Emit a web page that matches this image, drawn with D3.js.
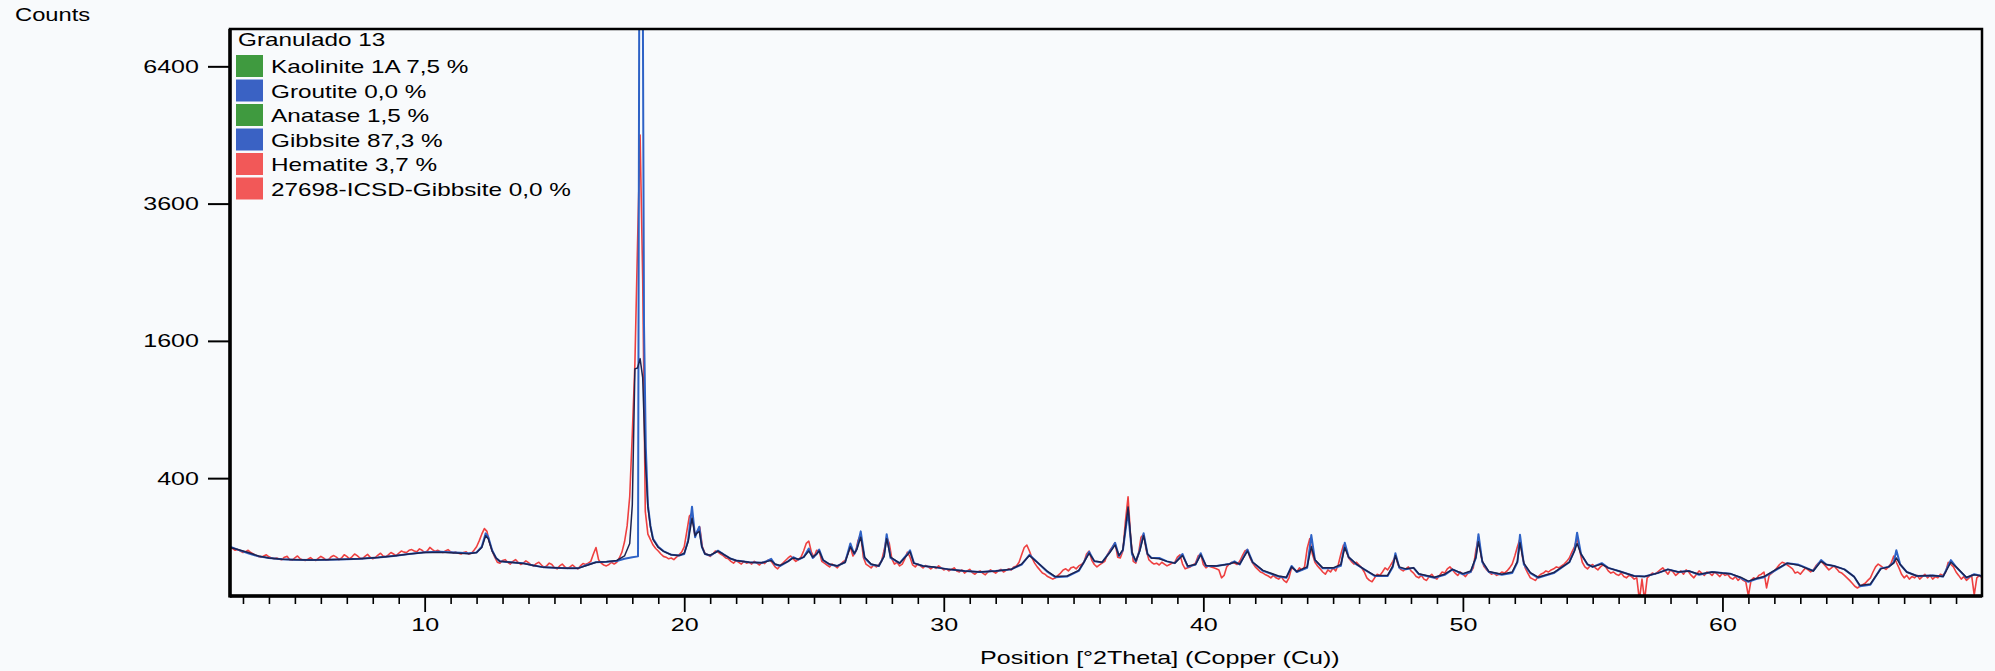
<!DOCTYPE html>
<html>
<head>
<meta charset="utf-8">
<script src="https://cdn.jsdelivr.net/npm/d3@7"></script>
<style>
  html, body { margin: 0; padding: 0; background: #f8fafc; }
  svg { display: block; font-family: "Liberation Sans", Arial, sans-serif; }
</style>
</head>
<body>
<svg id="chart" width="1995" height="671"></svg>
<script>
// Measured scan: counts every 0.1 °2θ starting at 2.5 °
const obsStart = 2.5;
const obsStep = 0.1;
const obsCounts = [
  98, 95, 90, 92, 88, 84, 86, 90, 84, 80,        // 2.5
  76, 74, 72, 75, 78, 73, 70, 68, 70, 67,        // 3.5
  66, 72, 74, 66, 65, 70, 75, 68, 65, 64,        // 4.5
  67, 71, 66, 64, 69, 74, 70, 65, 66, 73,        // 5.5
  76, 72, 66, 70, 78, 74, 68, 73, 80, 76,        // 6.5
  70, 68, 74, 79, 72, 68, 71, 77, 82, 75,        // 7.5
  73, 78, 84, 80, 76, 82, 88, 85, 84, 90,        // 8.5
  92, 88, 86, 94, 90, 84, 88, 98, 92, 87,        // 9.5
  90, 86, 84, 88, 92, 86, 83, 85, 82, 80,        // 10.5
  84, 86, 80, 82, 90, 100, 118, 140, 160, 150,   // 11.5
  112, 88, 72, 60, 58, 64, 66, 60, 56, 62,       // 12.5
  66, 60, 55, 58, 63, 59, 54, 52, 57, 60,        // 13.5
  54, 49, 52, 58, 55, 48, 46, 52, 56, 50,        // 14.5
  47, 50, 54, 49, 46, 52, 57, 55, 58, 62,        // 15.5
  80, 98, 66, 58, 54, 52, 55, 60, 56, 60,        // 16.5
  70, 85, 115, 170, 300, 700, 1350, 2900, 4900, 2400, // 17.5
  230, 140, 122, 105, 95, 88, 80, 74, 72, 68,    // 18.5
  70, 66, 72, 78, 85, 100, 150, 210, 221, 140,   // 19.5
  150, 165, 100, 82, 78, 74, 80, 88, 85, 80,     // 20.5
  76, 70, 68, 62, 58, 64, 60, 56, 62, 58,        // 21.5
  60, 56, 62, 58, 54, 60, 57, 64, 66, 58,        // 22.5
  50, 46, 53, 58, 64, 70, 75, 68, 62, 66,        // 23.5
  72, 88, 110, 117, 85, 72, 90, 88, 62, 58,      // 24.5
  54, 50, 56, 52, 48, 55, 60, 64, 80, 100,       // 25.5
  75, 85, 120, 140, 72, 56, 52, 48, 54, 50,      // 26.5
  55, 62, 90, 130, 110, 68, 56, 60, 52, 56,      // 27.5
  68, 85, 72, 54, 50, 56, 52, 48, 53, 50,        // 28.5
  46, 50, 47, 52, 48, 44, 46, 42, 45, 48,        // 29.5
  42, 40, 44, 38, 42, 45, 39, 36, 40, 42,        // 30.5
  38, 35, 40, 44, 41, 38, 42, 45, 40, 43,        // 31.5
  46, 44, 50, 52, 60, 78, 98, 105, 88, 70,       // 32.5
  58, 50, 44, 38, 36, 32, 30, 28, 30, 34,        // 33.5
  38, 44, 46, 42, 48, 50, 46, 52, 55, 60,        // 34.5
  80, 88, 65, 55, 50, 54, 58, 62, 78, 90,        // 35.5
  100, 112, 72, 70, 88, 190, 299, 130, 62, 58,   // 36.5
  80, 130, 140, 90, 66, 60, 56, 58, 54, 60,      // 37.5
  56, 52, 55, 58, 60, 72, 78, 56, 46, 48,        // 38.5
  50, 54, 58, 75, 80, 55, 48, 52, 50, 48,        // 39.5
  46, 44, 30, 34, 50, 56, 60, 58, 55, 62,        // 40.5
  75, 88, 92, 70, 58, 50, 45, 40, 38, 35,        // 41.5
  33, 30, 34, 30, 28, 32, 26, 23, 30, 48,        // 42.5
  45, 40, 48, 44, 50, 95, 125, 80, 60, 52,       // 43.5
  46, 40, 36, 44, 40, 48, 42, 55, 80, 105,       // 44.5
  90, 70, 62, 56, 60, 54, 48, 40, 30, 26,        // 45.5
  24, 30, 36, 34, 40, 48, 44, 52, 62, 75,        // 46.5
  55, 45, 42, 46, 50, 42, 38, 32, 30, 34,        // 47.5
  28, 26, 32, 36, 30, 28, 34, 40, 38, 46,        // 48.5
  50, 44, 38, 34, 40, 36, 32, 38, 40, 48,        // 49.5
  90, 130, 75, 52, 45, 40, 36, 38, 34, 36,       // 50.5
  40, 38, 42, 48, 56, 75, 100, 125, 70, 48,      // 51.5
  38, 30, 28, 26, 32, 36, 38, 42, 40, 44,        // 52.5
  46, 50, 48, 52, 56, 62, 70, 85, 100, 128,      // 53.5
  90, 60, 50, 46, 52, 55, 48, 44, 50, 54,        // 54.5
  50, 42, 38, 40, 36, 34, 38, 32, 30, 34,        // 55.5
  32, 28, 30, 5, 28, 5, 30, 34, 38, 36,          // 56.5
  40, 44, 48, 42, 36, 44, 40, 34, 38, 42,        // 57.5
  36, 44, 40, 34, 30, 36, 42, 38, 34, 40,        // 58.5
  38, 34, 40, 36, 32, 38, 34, 36, 30, 28,        // 59.5
  32, 26, 30, 26, 24, 8, 26, 30, 28, 34,         // 60.5
  36, 40, 16, 34, 38, 42, 48, 55, 60, 58,        // 61.5
  54, 50, 46, 38, 40, 36, 42, 48, 44, 40,        // 62.5
  44, 52, 58, 62, 56, 50, 44, 48, 52, 46,        // 63.5
  40, 38, 34, 30, 26, 22, 18, 16, 18, 20,        // 64.5
  22, 26, 30, 40, 50, 56, 52, 48, 45, 50,        // 65.5
  58, 75, 60, 48, 36, 30, 34, 28, 32, 30,        // 66.5
  34, 28, 32, 36, 30, 34, 28, 32, 30, 36,        // 67.5
  34, 40, 60, 55, 50, 40, 34, 28, 32, 26,        // 68.5
  30, 34, 9, 30, 34, 30                          // 69.5
];

// Calculated pattern [°2θ, counts]
const calcPoints = [
  [2.5,100],[2.8,92],[3.2,82],[3.6,74],[4.0,70],[4.5,67],[5.0,66],[5.6,65],[6.2,66],[7.0,67],
  [7.5,68],[8.2,71],[8.8,75],[9.4,80],[10.0,85],[10.6,86],[11.2,84],[11.7,82],[12.0,84],[12.2,100],
  [12.35,143],[12.45,130],[12.6,90],[12.75,70],[12.9,62],[13.3,60],[13.8,58],[14.2,53],[14.6,49],[15.0,48],
  [15.5,47],[15.9,47],[16.3,55],[16.6,60],[17.0,61],[17.4,63],[17.7,68],[18.0,72],[18.22,74],[18.27,9000],
  [18.4,9000],[18.45,1800],[18.52,600],[18.6,260],[18.7,170],[18.8,125],[19.0,100],[19.2,88],[19.5,78],[19.8,76],
  [20.0,80],[20.15,120],[20.3,251],[20.42,130],[20.5,150],[20.58,167],[20.68,100],[20.8,80],[21.0,76],[21.2,84],
  [21.3,89],[21.5,80],[21.8,68],[22.0,64],[22.5,60],[23.0,59],[23.2,63],[23.35,68],[23.5,55],[23.7,52],
  [24.0,62],[24.2,72],[24.4,66],[24.6,72],[24.8,95],[24.95,70],[25.1,80],[25.2,92],[25.35,65],[25.6,55],
  [25.9,52],[26.2,60],[26.4,110],[26.55,80],[26.65,95],[26.8,150],[26.95,70],[27.2,55],[27.5,52],[27.7,75],
  [27.8,140],[27.95,70],[28.3,58],[28.6,80],[28.7,90],[28.85,58],[29.2,52],[29.7,49],[30.2,45],[30.8,42],
  [31.4,40],[32.0,42],[32.6,45],[33.0,55],[33.3,78],[33.6,60],[34.0,40],[34.3,31],[34.75,32],[35.2,42],
  [35.4,60],[35.6,86],[35.8,62],[36.1,60],[36.4,86],[36.6,112],[36.75,75],[36.9,90],[37.1,230],[37.25,80],
  [37.4,62],[37.55,90],[37.7,143],[37.85,80],[38.0,70],[38.3,70],[38.6,62],[38.9,58],[39.2,80],[39.4,50],
  [39.7,55],[39.9,82],[40.1,52],[40.5,52],[41.0,56],[41.2,62],[41.4,55],[41.7,92],[41.9,60],[42.3,42],
  [42.9,32],[43.2,30],[43.4,52],[43.6,40],[44.0,48],[44.16,137],[44.3,65],[44.6,47],[45.0,47],[45.3,52],
  [45.45,112],[45.6,72],[45.9,55],[46.2,45],[46.6,33],[47.1,33],[47.3,50],[47.4,82],[47.55,48],[47.8,45],
  [48.1,48],[48.3,36],[48.9,30],[49.3,35],[49.6,45],[50.0,36],[50.3,40],[50.5,70],[50.6,140],[50.75,60],
  [51.0,40],[51.5,35],[51.9,38],[52.1,60],[52.2,138],[52.35,55],[52.6,38],[52.9,30],[53.5,38],[54.1,60],
  [54.3,90],[54.4,145],[54.55,80],[54.8,55],[55.0,50],[55.35,58],[55.6,48],[56.0,42],[56.6,33],[57.0,32],
  [57.5,38],[57.9,45],[58.3,40],[58.7,42],[59.1,35],[59.6,40],[60.0,38],[60.3,37],[60.7,30],[61.0,24],
  [61.3,28],[61.6,31],[62.1,45],[62.5,58],[62.9,55],[63.0,53],[63.5,42],[63.8,65],[64.0,55],[64.3,52],
  [64.7,45],[65.07,32],[65.3,18],[65.7,20],[66.1,47],[66.4,50],[66.6,60],[66.7,90],[66.85,55],[67.1,40],
  [67.5,33],[68.1,34],[68.5,32],[68.8,65],[69.0,50],[69.4,30],[69.7,36],[70.0,33]
];

// Refined profile [°2θ, counts]
const fitPoints = [
  [2.5,98],[2.8,92],[3.2,84],[3.6,75],[4.0,70],[4.5,67],[5.0,66],[5.6,65],[6.2,66],[7.0,67],
  [7.5,68],[8.2,71],[8.8,75],[9.4,80],[10.0,84],[10.6,85],[11.2,83],[11.7,81],[12.0,84],[12.2,98],
  [12.35,135],[12.45,125],[12.6,88],[12.75,70],[12.9,62],[13.3,60],[13.8,57],[14.2,53],[14.6,49],[15.0,48],
  [15.5,47],[15.9,47],[16.3,54],[16.6,60],[17.0,61],[17.4,64],[17.7,75],[17.9,110],[18.0,260],[18.1,1290],
  [18.2,1300],[18.3,1400],[18.4,1200],[18.5,520],[18.6,250],[18.7,165],[18.8,122],[19.0,98],[19.2,87],[19.5,78],
  [19.8,76],[20.0,82],[20.15,115],[20.3,200],[20.42,135],[20.5,145],[20.58,150],[20.68,100],[20.8,80],[21.0,77],
  [21.2,84],[21.3,88],[21.5,80],[21.8,68],[22.0,64],[22.5,60],[23.0,59],[23.2,62],[23.35,64],[23.5,56],
  [23.7,53],[24.0,62],[24.2,70],[24.4,67],[24.6,72],[24.8,88],[24.95,72],[25.1,80],[25.2,88],[25.35,65],
  [25.6,56],[25.9,52],[26.2,60],[26.4,100],[26.55,82],[26.65,92],[26.8,130],[26.95,72],[27.2,56],[27.5,52],
  [27.7,74],[27.8,125],[27.95,72],[28.3,58],[28.6,78],[28.7,86],[28.85,58],[29.2,52],[29.7,49],[30.2,45],
  [30.8,42],[31.4,40],[32.0,42],[32.6,45],[33.0,56],[33.3,76],[33.6,60],[34.0,41],[34.3,32],[34.75,33],
  [35.2,43],[35.4,60],[35.6,82],[35.8,63],[36.1,60],[36.4,84],[36.6,105],[36.75,76],[36.9,92],[37.1,250],
  [37.25,85],[37.4,63],[37.55,88],[37.7,135],[37.85,80],[38.0,70],[38.3,68],[38.6,62],[38.9,58],[39.2,76],
  [39.4,52],[39.7,55],[39.9,78],[40.1,53],[40.5,52],[41.0,56],[41.2,60],[41.4,56],[41.7,88],[41.9,60],
  [42.3,43],[42.9,33],[43.2,31],[43.4,50],[43.6,41],[44.0,50],[44.16,100],[44.3,66],[44.6,48],[45.0,48],
  [45.3,55],[45.45,98],[45.6,72],[45.9,56],[46.2,45],[46.6,34],[47.1,34],[47.3,52],[47.4,76],[47.55,50],
  [47.8,46],[48.1,48],[48.3,37],[48.9,31],[49.3,36],[49.6,45],[50.0,37],[50.3,42],[50.5,72],[50.6,115],
  [50.75,62],[51.0,41],[51.5,36],[51.9,40],[52.1,62],[52.2,112],[52.35,58],[52.6,39],[52.9,31],[53.5,39],
  [54.1,60],[54.3,88],[54.4,110],[54.55,80],[54.8,56],[55.0,50],[55.35,56],[55.6,48],[56.0,42],[56.6,33],
  [57.0,32],[57.5,38],[57.9,45],[58.3,40],[58.7,42],[59.1,36],[59.6,40],[60.0,38],[60.3,37],[60.7,31],
  [61.0,25],[61.3,29],[61.6,32],[62.1,46],[62.5,58],[62.9,54],[63.0,52],[63.5,42],[63.8,62],[64.0,55],
  [64.3,52],[64.7,45],[65.07,32],[65.3,19],[65.7,21],[66.1,46],[66.4,50],[66.6,58],[66.7,70],[66.85,55],
  [67.1,40],[67.5,33],[68.1,34],[68.5,32],[68.8,60],[69.0,50],[69.4,31],[69.7,35],[70.0,33]
];

const yTickValues = [400, 1600, 3600, 6400];
const xMajorTicks = [10, 20, 30, 40, 50, 60];
const xMinorTicks = d3.range(3, 70, 1).filter(v => v % 10 !== 0);

const legendTitle = "Granulado 13";
const phaseLabels = [
  "Kaolinite 1A 7,5 %",
  "Groutite 0,0 %",
  "Anatase 1,5 %",
  "Gibbsite 87,3 %",
  "Hematite 3,7 %",
  "27698-ICSD-Gibbsite 0,0 %"
];
const phaseColors = ["#3f9a3f", "#3a62c4", "#3f9a3f", "#3a62c4", "#f25858", "#f25858"];

const yAxisTitle = "Counts";
const xAxisTitle = "Position [°2Theta] (Copper (Cu))";

// ---- layout ----
const plotLeft = 230, plotRight = 1982, plotTop = 29, plotBottom = 596;
const textScaleX = 1.32;       // wide lettering
const legendScaleX = 1.28;
const fontSize = 19;

const svg = d3.select("#chart");

const x = d3.scaleLinear().domain([2.5, 70]).range([plotLeft, plotRight]);
const y = d3.scaleSqrt().domain([8, 7300]).range([plotBottom, plotTop]);

// stretch text horizontally, keeping its anchor point
function widen(sel, sx = textScaleX) {
  sel.each(function () {
    const t = d3.select(this);
    const tx = +t.attr("x") || 0;
    const ty = +t.attr("y") || 0;
    t.attr("x", null).attr("y", null)
     .attr("transform", `translate(${tx},${ty}) scale(${sx},1)`);
  });
}

// clip for the traces
svg.append("defs").append("clipPath").attr("id", "plotClip")
  .append("rect")
  .attr("x", plotLeft).attr("y", plotTop)
  .attr("width", plotRight - plotLeft).attr("height", plotBottom - plotTop);

const obsSeries = obsCounts.map((c, i) => [obsStart + i * obsStep, c]);

const line = d3.line().x(d => x(d[0])).y(d => y(Math.max(d[1], 1)));

const traces = svg.append("g").attr("clip-path", "url(#plotClip)");
traces.append("path").datum(obsSeries)
  .attr("d", line).attr("fill", "none")
  .attr("stroke", "#ee4040").attr("stroke-width", 1.6).attr("stroke-linejoin", "round");
traces.append("path").datum(calcPoints)
  .attr("d", line).attr("fill", "none")
  .attr("stroke", "#2e62c6").attr("stroke-width", 2).attr("stroke-linejoin", "round");
traces.append("path").datum(fitPoints)
  .attr("d", line).attr("fill", "none")
  .attr("stroke", "#1c2350").attr("stroke-width", 1.5).attr("stroke-linejoin", "round");

// ---- axes ----
const yAxis = svg.append("g")
  .attr("transform", `translate(${plotLeft},0)`)
  .call(d3.axisLeft(y).tickValues(yTickValues).tickSize(22).tickPadding(9).tickFormat(d3.format("d")));
yAxis.select(".domain").remove();
yAxis.selectAll(".tick line").attr("stroke", "#000").attr("stroke-width", 2);
yAxis.selectAll(".tick text")
  .attr("font-size", fontSize).attr("fill", "#000")
  .attr("font-family", "Liberation Sans, Arial, sans-serif");
widen(yAxis.selectAll(".tick text"));

const xMinor = svg.append("g")
  .attr("transform", `translate(0,${plotBottom})`)
  .call(d3.axisBottom(x).tickValues(xMinorTicks).tickSize(8).tickFormat(""));
xMinor.select(".domain").remove();
xMinor.selectAll(".tick line").attr("stroke", "#000").attr("stroke-width", 1.6);

const xMajor = svg.append("g")
  .attr("transform", `translate(0,${plotBottom})`)
  .call(d3.axisBottom(x).tickValues(xMajorTicks).tickSize(16).tickPadding(6).tickFormat(d3.format("d")));
xMajor.select(".domain").remove();
xMajor.selectAll(".tick line").attr("stroke", "#000").attr("stroke-width", 1.8);
xMajor.selectAll(".tick text")
  .attr("font-size", fontSize).attr("fill", "#000")
  .attr("font-family", "Liberation Sans, Arial, sans-serif");
widen(xMajor.selectAll(".tick text"));

// plot frame
svg.append("rect")
  .attr("x", plotLeft).attr("y", plotTop)
  .attr("width", plotRight - plotLeft).attr("height", plotBottom - plotTop)
  .attr("fill", "none").attr("stroke", "#000").attr("stroke-width", 2.5);
svg.append("line")
  .attr("x1", plotLeft).attr("x2", plotLeft).attr("y1", plotTop).attr("y2", plotBottom + 1.5)
  .attr("stroke", "#000").attr("stroke-width", 3.5);
svg.append("line")
  .attr("x1", plotLeft).attr("x2", plotRight).attr("y1", plotBottom).attr("y2", plotBottom)
  .attr("stroke", "#000").attr("stroke-width", 3.5);

// titles
svg.append("text").text(yAxisTitle)
  .attr("x", 15).attr("y", 21)
  .attr("font-size", 18).attr("fill", "#000")
  .call(widen);
svg.append("text").text(xAxisTitle)
  .attr("x", 980).attr("y", 664)
  .attr("font-size", fontSize).attr("fill", "#000")
  .call(widen);

// ---- legend ----
const legend = svg.append("g");
legend.append("text").text(legendTitle)
  .attr("x", 238).attr("y", 46)
  .attr("font-size", fontSize).attr("fill", "#000")
  .call(widen, legendScaleX);

const rowY = d3.scaleLinear().domain([0, 1]).range([66, 90.5]);
const rows = legend.selectAll("g.entry").data(phaseLabels).enter()
  .append("g").attr("class", "entry");
rows.append("rect")
  .attr("x", 236).attr("y", (d, i) => rowY(i) - 11)
  .attr("width", 27).attr("height", 22)
  .attr("fill", (d, i) => phaseColors[i]);
rows.append("text").text(d => d)
  .attr("x", 271).attr("y", (d, i) => rowY(i) + 7)
  .attr("font-size", fontSize).attr("fill", "#000")
  .call(widen, legendScaleX);
</script>
</body>
</html>
